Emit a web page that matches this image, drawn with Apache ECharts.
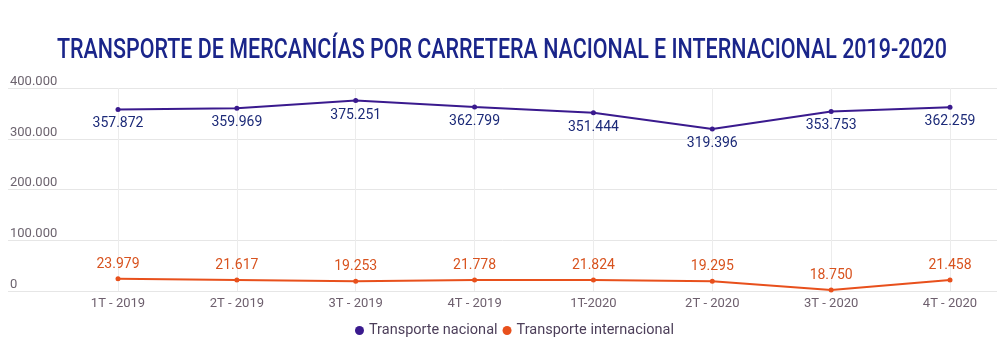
<!DOCTYPE html>
<html>
<head>
<meta charset="utf-8">
<script src="https://cdn.jsdelivr.net/npm/echarts@6/dist/echarts.min.js"></script>
<style>html,body{margin:0;padding:0;background:#fff}#c{width:1000px;height:359px}</style>
</head>
<body>
<div id="c"></div>
<script>
const titleText = 'TRANSPORTE DE MERCANCÍAS POR CARRETERA NACIONAL E INTERNACIONAL 2019-2020';
const categories = ['1T - 2019','2T - 2019','3T - 2019','4T - 2019','1T-2020','2T - 2020','3T - 2020','4T - 2020'];
const nacional = [357872, 359969, 375251, 362799, 351444, 319396, 353753, 362259];
// plotted positions as drawn in the reference (3T-2020 point sits on the baseline)
const internacionalPlotted = [23979, 21617, 19253, 21778, 21824, 19295, 1875, 21458];
// value labels as printed in the reference
const internacionalLabels = ['23.979','21.617','19.253','21.778','21.824','19.295','18.750','21.458'];
const yTicks = [0, 100000, 200000, 300000, 400000];

const fmt = v => String(v).replace(/\B(?=(\d{3})+(?!\d))/g, '.');
const chart = echarts.init(document.getElementById('c'));
const yMin = yTicks[0], yMax = yTicks[yTicks.length-1], yInt = yTicks[1]-yTicks[0];
const fontFam = 'Roboto, "Noto Sans", sans-serif';

// condensed title: measure normal-width text, then squeeze horizontally to the reference width
const titleFont = '500 28px Roboto, "Noto Sans", sans-serif';
const mctx = document.createElement('canvas').getContext('2d');
mctx.font = titleFont;
const titleScale = 890 / mctx.measureText(titleText).width;

chart.setOption({
  animation: false,
  backgroundColor: '#fff',
  graphic: [{
    type: 'text', x: 502, y: 51, scaleX: titleScale, scaleY: 1,
    style: { text: titleText, font: titleFont, fill: '#1a258a', textAlign: 'center', textVerticalAlign: 'middle' }
  }],
  legend: {
    bottom: 16, left: 350,
    icon: 'circle', itemWidth: 9, itemHeight: 9, itemGap: 5,
    textStyle: { fontFamily: fontFam, fontSize: 14.5, color: '#4d3f5a' },
    data: ['Transporte nacional', 'Transporte internacional']
  },
  grid: [
    { left: 8, right: 3, top: 88, bottom: 68 },
    { left: 118, right: 50, top: 88, bottom: 68 }
  ],
  xAxis: [
    { gridIndex: 0, type: 'value', min: 0, max: 1, show: false },
    { gridIndex: 1, type: 'category', data: categories, boundaryGap: false,
      axisLine: { show: false }, axisTick: { show: false },
      splitLine: { show: true, lineStyle: { color: '#ececec', width: 1 } },
      axisLabel: { fontFamily: fontFam, fontSize: 13, color: '#6d5f6d', margin: 6 } }
  ],
  yAxis: [
    { gridIndex: 0, type: 'value', min: yMin, max: yMax, interval: yInt,
      axisLine: { show: false }, axisTick: { show: false },
      splitLine: { lineStyle: { color: '#e6e6e6', width: 1 } },
      axisLabel: { inside: true, margin: 2, verticalAlign: 'bottom', padding: [0,0,0,0],
        fontFamily: fontFam, fontSize: 13, color: '#6d646f', formatter: v => fmt(v) } },
    { gridIndex: 1, type: 'value', min: yMin, max: yMax, interval: yInt, show: false, splitLine: { show: false } }
  ],
  series: [
    { name: 'Transporte nacional', type: 'line', xAxisIndex: 1, yAxisIndex: 1,
      data: nacional, symbol: 'circle', symbolSize: 5, color: '#3a1a8e',
      lineStyle: { width: 2, color: '#3a1a8e' },
      label: { show: true, position: 'bottom', distance: 5, fontFamily: fontFam, fontSize: 14, color: '#1c2a78',
        formatter: p => fmt(p.value) } },
    { name: 'Transporte internacional', type: 'line', xAxisIndex: 1, yAxisIndex: 1,
      data: internacionalPlotted, symbol: 'circle', symbolSize: 5, color: '#e8501c',
      lineStyle: { width: 2, color: '#e8501c' },
      label: { show: true, position: 'top', distance: 5, fontFamily: fontFam, fontSize: 14, color: '#d8531f',
        formatter: p => internacionalLabels[p.dataIndex] } }
  ]
});
</script>
</body>
</html>
